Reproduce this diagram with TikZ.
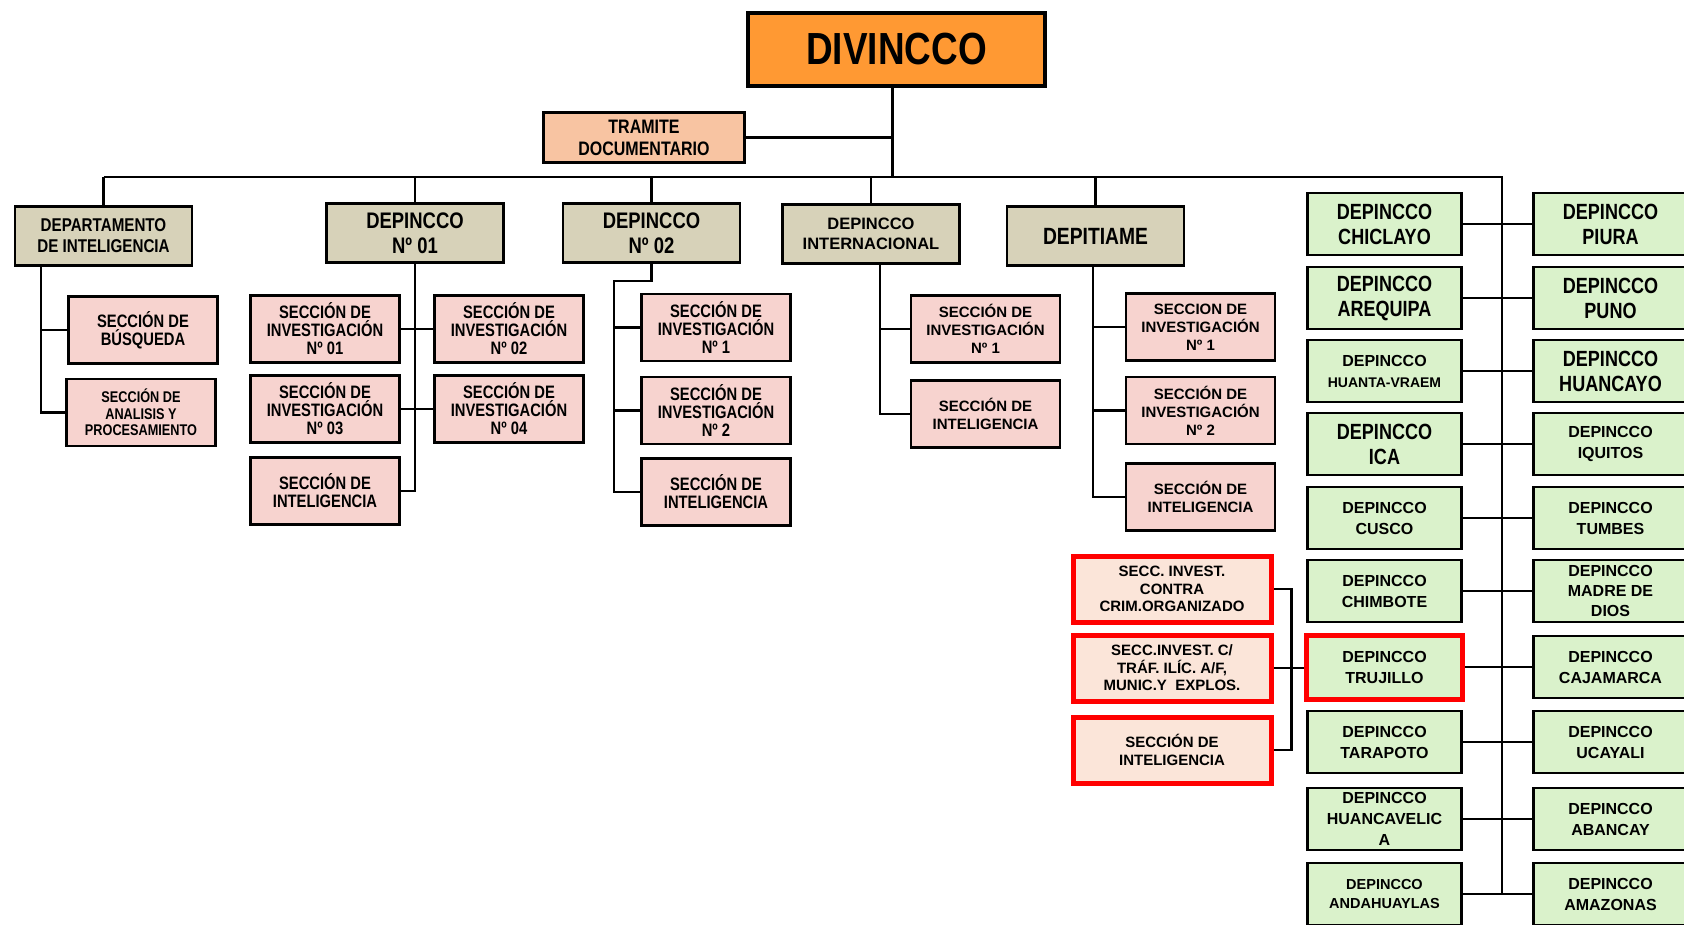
\documentclass[tikz,border=0pt]{standalone}
\usepackage{fontspec}
\setmainfont{Liberation Sans}
\newfontfamily\estrecha[FakeStretch=0.82]{Liberation Sans}
\usetikzlibrary{backgrounds}

\definecolor{naranja}{HTML}{FF9933}
\definecolor{salmon}{HTML}{F8C4A2}
\definecolor{caqui}{HTML}{D7D2B9}
\definecolor{rosa}{HTML}{F7D3CF}
\definecolor{crema}{HTML}{FBE5D9}
\definecolor{verde}{HTML}{DAF2CB}
\newcommand{\tam}[2]{\fontsize{#1}{#2}\selectfont}

\begin{document}
\begin{tikzpicture}[x=1pt,y=-1pt,
  caja/.style={draw,line width=2.8pt,align=center,inner sep=0pt},
  jefe/.style={caja,fill=naranja,line width=4pt,minimum width=297pt,minimum height=73pt,
    font=\estrecha\bfseries\tam{45}{50}},
  docum/.style={caja,fill=salmon,minimum width=201pt,minimum height=50pt,
    font=\estrecha\bfseries\tam{19.5}{22}},
  depto/.style={caja,fill=caqui,minimum width=177pt,minimum height=59pt},
  seccion/.style={caja,fill=rosa,minimum width=149pt,minimum height=67pt,
    font=\estrecha\bfseries\tam{18}{18}},
  seccionb/.style={seccion,font=\bfseries\tam{15}{18}},
  roja/.style={caja,fill=crema,draw=red,line width=5pt,minimum width=198pt,minimum height=66pt,
    font=\bfseries\tam{15}{17.5}},
  sede/.style={caja,fill=verde,minimum width=154pt,minimum height=62pt,
    font=\bfseries\tam{16}{21}},
  sedeg/.style={sede,font=\estrecha\bfseries\tam{22}{25}},
  enlace/.style={line width=2.8pt}]

  \useasboundingbox (0,0) rectangle (1684,924);
  \clip (0,0) rectangle (1684,924);

  \node[jefe] (divincco) at (896.5,49.5) {DIVINCCO};
  \node[docum] (tramite) at (644,137.5) {TRAMITE\\DOCUMENTARIO};

  \node[depto,font=\estrecha\bfseries\tam{18.5}{21}] (dptoint) at (103.5,236) {DEPARTAMENTO\\DE INTELIGENCIA};
  \node[depto,font=\estrecha\bfseries\tam{22.5}{25}] (dep01) at (415,233) {DEPINCCO\\Nº 01};
  \node[depto,font=\estrecha\bfseries\tam{22.5}{25}] (dep02) at (651.5,233) {DEPINCCO\\Nº 02};
  \node[depto,font=\bfseries\tam{16.5}{20}] (depint) at (871,234) {DEPINCCO\\INTERNACIONAL};
  \node[depto,font=\estrecha\bfseries\tam{23.5}{26}] (depitiame) at (1095.5,236) {DEPITIAME};

  \node[seccion] (busqueda) at (143,330) {SECCIÓN DE\\BÚSQUEDA};
  \node[seccion,font=\estrecha\bfseries\tam{15.5}{16.5}] (analisis) at (141,412.5) {SECCIÓN DE\\ANALISIS Y\\PROCESAMIENTO};

  \node[seccion] (si01) at (325,329) {SECCIÓN DE\\INVESTIGACIÓN\\Nº 01};
  \node[seccion] (si02) at (509,329) {SECCIÓN DE\\INVESTIGACIÓN\\Nº 02};
  \node[seccion] (si03) at (325,409) {SECCIÓN DE\\INVESTIGACIÓN\\Nº 03};
  \node[seccion] (si04) at (509,409) {SECCIÓN DE\\INVESTIGACIÓN\\Nº 04};
  \node[seccion] (sint01) at (325,491) {SECCIÓN DE\\INTELIGENCIA};

  \node[seccion] (si21) at (716,327.5) {SECCIÓN DE\\INVESTIGACIÓN\\Nº 1};
  \node[seccion] (si22) at (716,410.5) {SECCIÓN DE\\INVESTIGACIÓN\\Nº 2};
  \node[seccion] (sint02) at (716,492) {SECCIÓN DE\\INTELIGENCIA};

  \node[seccionb] (siint) at (985.5,329) {SECCIÓN DE\\INVESTIGACIÓN\\Nº 1};
  \node[seccionb] (sintint) at (985.5,414) {SECCIÓN DE\\INTELIGENCIA};

  \node[seccionb] (sit1) at (1200.5,327) {SECCION DE\\INVESTIGACIÓN\\Nº 1};
  \node[seccionb] (sit2) at (1200.5,410.5) {SECCIÓN DE\\INVESTIGACIÓN\\Nº 2};
  \node[seccionb] (sintit) at (1200.5,497) {SECCIÓN DE\\INTELIGENCIA};

  \node[roja] (crimorg) at (1172,589) {SECC. INVEST.\\CONTRA\\CRIM.ORGANIZADO};
  \node[roja] (trafilic) at (1172,668) {SECC.INVEST. C/\\TRÁF. ILÍC. A/F,\\MUNIC.Y~~EXPLOS.};
  \node[roja] (intelrojo) at (1172,750) {SECCIÓN DE\\INTELIGENCIA};

  \node[sedeg] (chiclayo) at (1384.5,224) {DEPINCCO\\CHICLAYO};
  \node[sedeg] (piura) at (1610.5,224) {DEPINCCO\\PIURA};
  \node[sedeg] (arequipa) at (1384.5,298) {DEPINCCO\\AREQUIPA};
  \node[sedeg] (puno) at (1610.5,298) {DEPINCCO\\PUNO};
  \node[sede] (huanta) at (1384.5,371) {DEPINCCO\\{\tam{14}{20}HUANTA-VRAEM}};
  \node[sedeg] (huancayo) at (1610.5,371) {DEPINCCO\\HUANCAYO};
  \node[sedeg] (ica) at (1384.5,444) {DEPINCCO\\ICA};
  \node[sede] (iquitos) at (1610.5,444) {DEPINCCO\\IQUITOS};
  \node[sede] (cusco) at (1384.5,518) {DEPINCCO\\CUSCO};
  \node[sede] (tumbes) at (1610.5,518) {DEPINCCO\\TUMBES};
  \node[sede] (chimbote) at (1384.5,591) {DEPINCCO\\CHIMBOTE};
  \node[sede,font=\bfseries\tam{16}{20}] (madre) at (1610.5,591) {DEPINCCO\\MADRE DE\\DIOS};
  \node[sede,draw=red,line width=5pt,minimum width=156pt,minimum height=64pt] (trujillo) at (1384.5,667) {DEPINCCO\\TRUJILLO};
  \node[sede] (cajamarca) at (1610.5,667) {DEPINCCO\\CAJAMARCA};
  \node[sede] (tarapoto) at (1384.5,742) {DEPINCCO\\TARAPOTO};
  \node[sede] (ucayali) at (1610.5,742) {DEPINCCO\\UCAYALI};
  \node[sede] (huancavelica) at (1384.5,819) {DEPINCCO\\HUANCAVELIC\\A};
  \node[sede] (abancay) at (1610.5,819) {DEPINCCO\\ABANCAY};
  \node[sede,font=\bfseries\tam{14.5}{19}] (andahuaylas) at (1384.5,894) {DEPINCCO\\ANDAHUAYLAS};
  \node[sede] (amazonas) at (1610.5,894) {DEPINCCO\\AMAZONAS};

  \begin{scope}[on background layer]
    \coordinate (nudo) at (892.5,177);
    \coordinate (eje) at (1502,177);
    \draw[enlace] (divincco.south -| nudo) -- (nudo);
    \draw[enlace] (tramite.east) -- (tramite.east -| nudo);
    \draw[enlace] (dptoint.north |- nudo) -- (eje) -- (eje |- andahuaylas.east);
    \foreach \d in {dptoint,dep01,dep02,depint,depitiame}
      \draw[enlace] (\d.north) -- (\d.north |- nudo);

    \draw[enlace] ([xshift=-62.5pt]dptoint.south) |- (busqueda.west);
    \draw[enlace] ([xshift=-62.5pt]dptoint.south) |- (analisis.west);

    \draw[enlace] (dep01.south) -- (dep01.south |- sint01.east) -- (sint01.east);
    \draw[enlace] (si01.east) -- (si02.west);
    \draw[enlace] (si03.east) -- (si04.west);

    \coordinate (codo) at (614,281);
    \draw[enlace] (dep02.south) |- (codo) -- (codo |- sint02.west) -- (sint02.west);
    \draw[enlace] (codo |- si21.west) -- (si21.west);
    \draw[enlace] (codo |- si22.west) -- (si22.west);

    \draw[enlace] ([xshift=9pt]depint.south) |- (siint.west);
    \draw[enlace] ([xshift=9pt]depint.south) |- (sintint.west);

    \foreach \s in {sit1,sit2,sintit}
      \draw[enlace] ([xshift=-2.5pt]depitiame.south) |- (\s.west);

    \draw[enlace] (crimorg.east) -- ++(18,0) |- (intelrojo.east);
    \draw[enlace] (trafilic.east) -- (trafilic.east -| trujillo.west);

    \foreach \a/\b in {chiclayo/piura,arequipa/puno,huanta/huancayo,ica/iquitos,cusco/tumbes,
      chimbote/madre,trujillo/cajamarca,tarapoto/ucayali,huancavelica/abancay,andahuaylas/amazonas}
      \draw[enlace] (\a.east) -- (\a.east -| \b.west);
  \end{scope}

\end{tikzpicture}
\end{document}
